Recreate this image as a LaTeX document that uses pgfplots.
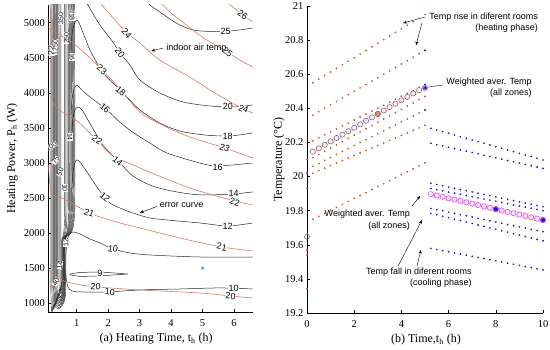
\documentclass[border=0pt]{standalone}
\usepackage{fontspec}
\setmainfont{Liberation Serif}
\newfontfamily\arial{Liberation Sans}
\usepackage{pgfplots}
\usepackage{pgfplotstable}
\pgfplotsset{compat=1.18}
\usetikzlibrary{arrows.meta}
\definecolor{redc}{RGB}{205,125,105}
\definecolor{heat}{RGB}{185,90,50}
\definecolor{coolc}{RGB}{30,30,200}
\definecolor{wgray}{RGB}{105,105,105}
\definecolor{violetc}{RGB}{200,80,235}
\definecolor{pinkband}{RGB}{255,222,240}
\definecolor{starblue}{RGB}{70,150,255}

\pgfplotstableread{
t H1 H2 H3 H4 H5 H6 H7 W
0.25 20.550 20.36 20.210 20.110 20.060 20.020 19.750 20.146
0.50 20.571 20.38 20.227 20.129 20.077 20.035 19.767 20.166
0.75 20.592 20.40 20.245 20.148 20.095 20.049 19.785 20.186
1.00 20.613 20.42 20.262 20.167 20.112 20.064 19.802 20.206
1.25 20.634 20.44 20.279 20.186 20.129 20.079 19.819 20.226
1.50 20.655 20.46 20.297 20.205 20.147 20.094 19.837 20.246
1.75 20.676 20.48 20.314 20.224 20.164 20.108 19.854 20.266
2.00 20.697 20.50 20.332 20.243 20.182 20.123 19.872 20.286
2.25 20.718 20.52 20.349 20.262 20.199 20.138 19.889 20.306
2.50 20.739 20.54 20.366 20.281 20.216 20.153 19.906 20.327
2.75 20.761 20.56 20.384 20.299 20.234 20.167 19.924 20.347
3.00 20.782 20.58 20.401 20.318 20.251 20.182 19.941 20.367
3.25 20.803 20.60 20.418 20.337 20.268 20.197 19.958 20.387
3.50 20.824 20.62 20.436 20.356 20.286 20.212 19.976 20.407
3.75 20.845 20.64 20.453 20.375 20.303 20.226 19.993 20.427
4.00 20.866 20.66 20.471 20.394 20.321 20.241 20.011 20.447
4.25 20.887 20.68 20.488 20.413 20.338 20.256 20.028 20.467
4.50 20.908 20.70 20.505 20.432 20.355 20.271 20.045 20.487
4.75 20.929 20.72 20.523 20.451 20.373 20.285 20.063 20.507
5.00 20.950 20.74 20.540 20.470 20.390 20.300 20.080 nan
}\heatT

\pgfplotstableread{
t C1 C2 C3 C4 C5 C6 C7 W
5.25 20.283 20.195 19.960 19.930 19.813 19.784 19.579 19.897
5.50 20.273 20.187 19.953 19.923 19.806 19.776 19.572 19.889
5.75 20.263 20.180 19.946 19.916 19.799 19.767 19.566 19.881
6.00 20.254 20.172 19.938 19.909 19.791 19.759 19.559 19.873
6.25 20.244 20.164 19.931 19.903 19.784 19.750 19.552 19.865
6.50 20.234 20.156 19.924 19.896 19.777 19.742 19.546 19.857
6.75 20.224 20.149 19.917 19.889 19.770 19.733 19.539 19.849
7.00 20.214 20.141 19.910 19.882 19.763 19.725 19.532 19.841
7.25 20.205 20.133 19.902 19.875 19.755 19.716 19.526 19.833
7.50 20.195 20.125 19.895 19.868 19.748 19.708 19.519 19.825
7.75 20.185 20.118 19.888 19.862 19.741 19.699 19.512 19.817
8.00 20.175 20.110 19.881 19.855 19.734 19.691 19.506 19.809
8.25 20.166 20.102 19.873 19.848 19.726 19.682 19.499 19.801
8.50 20.156 20.094 19.866 19.841 19.719 19.674 19.492 19.793
8.75 20.146 20.087 19.859 19.834 19.712 19.665 19.486 19.785
9.00 20.136 20.079 19.852 19.827 19.705 19.657 19.479 19.777
9.25 20.126 20.071 19.845 19.821 19.698 19.648 19.472 19.769
9.50 20.117 20.063 19.837 19.814 19.690 19.640 19.466 19.761
9.75 20.107 20.056 19.830 19.807 19.683 19.631 19.459 19.753
10.00 20.097 20.048 19.823 19.800 19.676 19.623 19.452 19.745
}\coolT

\tikzset{
 lab/.style={font=\arial\fontsize{9}{9}\selectfont, fill=white, inner sep=0.3pt, text=black},
 blab/.style={font=\arial\fontsize{7}{7}\selectfont, fill=white, inner sep=0.2pt, text=black},
 arr/.style={-{Stealth[length=4pt,width=3pt]}, line width=0.4pt, black},
 ann/.style={font=\arial\fontsize{9}{11.5}\selectfont, inner sep=0pt, align=right, text=black},
}
\pgfplotsset{
 common/.style={scale only axis, axis x line*=bottom, axis y line*=left,
   tick align=inside, major tick length=3pt, tick style={black, line width=0.4pt},
   axis line style={line width=0.5pt},
   tick label style={font=\fontsize{10.5}{12}\selectfont},
   /pgf/number format/assume math mode=true, /pgf/number format/1000 sep={},
   label style={font=\fontsize{12}{14}\selectfont},
   xticklabel style={yshift=-4pt}},
 blk/.style={black!85, line width=0.5pt, smooth, tension=0.5, no marks},
 rd/.style={redc, line width=0.6pt, smooth, tension=0.5, no marks},
 bun/.style={black!80, line width=0.45pt, smooth, tension=0.4, no marks},
 hdots/.style={only marks, mark=*, mark size=0.65pt, heat},
 cdots/.style={only marks, mark=*, mark size=0.65pt, coolc},
}

\begin{document}
\begin{tikzpicture}
\path[use as bounding box] (0,0) rectangle (550pt,350pt);

% ---------------- (a) contour panel ----------------
\begin{axis}[common, at={(48.3pt,38pt)}, anchor=south west,
  width=204.7pt, height=307pt,
  xmin=0.1, xmax=6.6, ymin=876, ymax=5252,
  xtick={1,2,3,4,5,6},
  ytick={1000,1500,2000,2500,3000,3500,4000,4500,5000},
  xlabel={(a) Heating Time, t\textsubscript{h} (h)},
  ylabel={Heating Power, P\textsubscript{h} (W)},
  xlabel style={at={(axis description cs:0.527,-0.0967)}, anchor=base},
  ylabel style={at={(axis description cs:-0.176,0.5)}, anchor=center}]

% dense bundle of high-error contours
\addplot[bun] coordinates {(0.185,5300) (0.185,1133) (0.277,976) (0.415,919) (0.553,976) (0.645,1133) (0.645,1903) (0.930,2259) (0.930,5300)};
\addplot[bun] coordinates {(0.217,5300) (0.217,1155) (0.301,997) (0.427,940) (0.553,997) (0.637,1155) (0.637,1903) (0.906,2259) (0.906,5300)};
\addplot[bun] coordinates {(0.249,5300) (0.249,1176) (0.325,1019) (0.439,962) (0.553,1019) (0.629,1176) (0.629,1903) (0.883,2259) (0.883,5300)};
\addplot[bun] coordinates {(0.272,5300) (0.272,1198) (0.342,1040) (0.447,983) (0.551,1040) (0.621,1198) (0.621,1903) (0.859,2259) (0.859,5300)};
\addplot[bun] coordinates {(0.296,5300) (0.296,1219) (0.359,1062) (0.455,1005) (0.550,1062) (0.613,1219) (0.613,1903) (0.835,2259) (0.835,5300)};
\addplot[bun] coordinates {(0.320,5300) (0.320,1240) (0.377,1083) (0.463,1026) (0.548,1083) (0.605,1240) (0.605,1903) (0.812,2259) (0.812,5300)};
\addplot[bun] coordinates {(0.344,5300) (0.344,1262) (0.395,1105) (0.471,1048) (0.546,1105) (0.597,1262) (0.597,1903) (0.788,2259) (0.788,5300)};
\addplot[bun] coordinates {(0.367,5300) (0.367,1283) (0.411,1126) (0.478,1070) (0.545,1126) (0.589,1283) (0.589,1903) (0.764,2259) (0.764,5300)};
\addplot[bun] coordinates {(0.391,5300) (0.391,1304) (0.429,1147) (0.486,1091) (0.543,1147) (0.581,1304) (0.581,1903) (0.740,2259) (0.740,5300)};
\addplot[bun] coordinates {(0.439,5300) (0.439,1347) (0.464,1190) (0.503,1133) (0.541,1190) (0.566,1347) (0.566,1903) (0.692,2259) (0.692,5300)};
\addplot[bun] coordinates {(0.471,5300) (0.471,1390) (0.487,1233) (0.511,1176) (0.534,1233) (0.550,1390) (0.550,1903) (0.654,2259) (0.654,5300)};
\addplot[bun] coordinates {(0.502,5300) (0.502,1447) (0.508,1290) (0.518,1233) (0.528,1290) (0.534,1447) (0.534,1903) (0.616,2259) (0.616,5300)};

% error-curve contours (black)
\addplot[blk] coordinates {(3.26,5300) (3.324,5252) (3.641,5153) (3.958,5053) (4.275,4967) (4.687,4896) (5.226,4875) (5.8,4880) (6.178,4896) (6.59,4924)};
\addplot[blk] coordinates {(1.30,5300) (1.358,5252) (1.739,4967) (2.151,4725) (2.373,4568) (2.690,4397) (3.007,4183) (3.641,3998) (4.370,3870) (5.226,3813) (5.956,3798) (6.59,3827)};
\addplot[blk] coordinates {(0.819,4611) (0.851,4825) (0.914,4967) (1.010,5038) (1.105,4967) (1.231,4825) (1.422,4611) (1.644,4426) (1.834,4283) (2.119,4155) (2.373,4041) (2.595,3941) (3.007,3756) (3.641,3570) (4.275,3456) (5.068,3399) (5.860,3385) (6.59,3428)};
\addplot[blk] coordinates {(0.819,3684) (0.851,3898) (0.914,4055) (1.010,4112) (1.105,4069) (1.263,3998) (1.549,3898) (1.961,3756) (2.405,3570) (2.817,3428) (3.324,3285) (3.863,3143) (4.909,3000) (5.480,2957) (6.59,3000)};
\addplot[blk] coordinates {(0.851,3471) (0.883,3642) (0.946,3756) (1.041,3798) (1.168,3756) (1.358,3613) (1.580,3442) (1.834,3257) (2.119,3114) (2.437,2971) (2.785,2815) (3.324,2686) (3.863,2615) (4.592,2558) (5.131,2544) (5.956,2558) (6.59,2587)};
\addplot[blk] coordinates {(0.851,2615) (0.883,2872) (0.946,3000) (1.010,3043) (1.105,3014) (1.327,2872) (1.644,2658) (1.834,2544) (2.056,2430) (2.373,2359) (2.785,2287) (3.324,2216) (3.863,2188) (4.909,2145) (5.797,2102) (6.59,2145)};
\addplot[blk] coordinates {(6.59,1204) (5.543,1219) (4.275,1204) (3.007,1190) (1.961,1162) (1.105,1162) (0.851,1176) (0.724,1233) (0.661,1404) (0.661,1689) (0.692,1874) (0.756,1974) (0.883,2017) (1.105,1988) (1.422,1917) (1.739,1860) (2.151,1775) (2.690,1718) (3.324,1689) (4.909,1660) (6.59,1660)};
\addplot[black!85, line width=0.5pt, no marks] coordinates {(0.788,1418) (1.105,1440) (1.739,1447) (2.627,1418) (1.739,1390) (1.105,1383) (0.788,1404) (0.788,1418)};

% indoor air temperature contours (red)
\addplot[rd] coordinates {(5.797,5281) (5.956,5224) (6.114,5167) (6.273,5110) (6.432,5060) (6.59,5010)};
\addplot[rd] coordinates {(3.641,5295) (3.736,5252) (3.958,5153) (4.275,5038) (4.687,4896) (5.131,4753) (5.797,4582) (6.178,4468) (6.59,4369)};
\addplot[rd] coordinates {(1.739,5281) (1.802,5252) (2.214,5038) (2.595,4853) (3.007,4711) (3.641,4468) (4.592,4226) (5.385,3998) (6.178,3798) (6.59,3713)};
\addplot[rd] coordinates {(0.06,4940) (0.471,4825) (0.851,4725) (1.422,4497) (2.119,4183) (2.531,3969) (3.007,3727) (3.641,3556) (4.592,3371) (5.702,3214) (6.59,3071)};
\addplot[rd] coordinates {(0.185,5300) (0.185,4611) (0.190,4112) (0.249,3856) (0.534,3727) (1.010,3599) (1.580,3357) (2.119,3114) (3.007,2929) (4.592,2644) (6.019,2459) (6.59,2402)};
\addplot[rd] coordinates {(0.106,2971) (0.153,2686) (0.249,2544) (0.597,2487) (1.485,2273) (2.373,2145) (3.007,2074) (4.275,1931) (5.607,1803) (6.59,1746)};
\addplot[rd] coordinates {(0.08,1490) (0.312,1390) (0.597,1319) (1.105,1262) (1.644,1233) (3.007,1190) (4.909,1147) (5.860,1105) (6.59,1076)};

\addplot[only marks, mark=asterisk, mark size=2pt, starblue, line width=0.5pt] coordinates {(5,1500)};

% contour labels
\node[lab] at (axis cs:5.734,4882) {25};
\node[lab, rotate=-55] at (axis cs:2.373,4568) {20};
\node[lab] at (axis cs:5.80,3806) {20};
\node[lab, rotate=-20] at (axis cs:6.30,3772) {24};
\node[lab, rotate=-40] at (axis cs:1.80,4330) {23};
\node[lab, rotate=-40] at (axis cs:2.40,4020) {18};
\node[lab] at (axis cs:5.797,3385) {18};
\node[lab, rotate=-40] at (axis cs:1.90,3780) {16};
\node[lab] at (axis cs:5.48,2943) {16};
\node[lab, rotate=-35] at (axis cs:1.65,3325) {22};
\node[lab, rotate=-40] at (axis cs:2.30,3030) {14};
\node[lab] at (axis cs:5.987,2565) {14};
\node[lab, rotate=-40] at (axis cs:1.90,2510) {12};
\node[lab] at (axis cs:5.797,2102) {12};
\node[lab, rotate=-10] at (axis cs:2.151,1775) {10};
\node[lab, rotate=-5] at (axis cs:1.60,1238) {20};
\node[lab, rotate=-3] at (axis cs:2.05,1160) {10};
\node[lab] at (axis cs:5.987,1219) {10};
\node[lab, rotate=-5] at (axis cs:5.892,1105) {20};
\node[lab] at (axis cs:1.739,1425) {9};
\node[lab, rotate=-35] at (axis cs:6.273,5110) {26};
\node[lab, rotate=-40] at (axis cs:5.797,4582) {25};
\node[lab, rotate=-50] at (axis cs:2.595,4853) {24};
\node[lab, rotate=-20] at (axis cs:5.702,3214) {23};
\node[lab, rotate=90] at (axis cs:0.19,4600) {22};
\node[lab, rotate=-15] at (axis cs:6.019,2444) {22};
\node[lab, rotate=-20] at (axis cs:1.40,2290) {21};
\node[lab, rotate=-12] at (axis cs:5.607,1803) {21};
% labels inside the dense bundle
\node[blab, rotate=-90] at (axis cs:0.851,5081) {18};
\node[blab, rotate=-90] at (axis cs:0.851,4511) {16};
\node[blab, rotate=-90] at (axis cs:0.788,3371) {14};
\node[blab, rotate=-90] at (axis cs:0.629,2644) {10};
\node[blab, rotate=90] at (axis cs:0.661,1860) {12};
\node[blab, rotate=80] at (axis cs:0.471,1546) {14};
\node[blab, rotate=60] at (axis cs:0.344,1304) {40};
\node[blab, rotate=90] at (axis cs:0.32,4650) {1250};
\node[blab, rotate=90] at (axis cs:0.50,5060) {350};
\node[blab, rotate=90] at (axis cs:0.68,4780) {250};
\node[blab, rotate=30] at (axis cs:0.19,3240) {100};
\node[blab, rotate=60] at (axis cs:0.33,3040) {75};
\node[blab, rotate=70] at (axis cs:0.48,2870) {50};
% annotations
\draw[arr] (axis cs:3.75,4639) -- (axis cs:3.37,4597);
\node[ann, anchor=west] at (axis cs:3.84,4639) {indoor air temp};
\draw[arr] (axis cs:3.55,2380) -- (axis cs:3.01,2290);
\node[ann, anchor=west] at (axis cs:3.64,2402) {error curve};
\end{axis}

% ---------------- (b) temperature panel ----------------
\begin{axis}[common, clip=false, at={(307pt,37pt)}, anchor=south west,
  width=236pt, height=307pt,
  xmin=0, xmax=10, ymin=19.2, ymax=21,
  xtick={0,2,4,6,8,10},
  ytick={19.2,19.4,19.6,19.8,20,20.2,20.4,20.6,20.8,21},
  xlabel={(b) Time,t\textsubscript{h} (h)},
  ylabel={Temperature (°C)},
  xlabel style={at={(axis description cs:0.504,-0.0967)}, anchor=base},
  ylabel style={at={(axis description cs:-0.119,0.5)}, anchor=center}]

\addplot[no marks, pinkband!70, line width=5pt] table[x=t,y=W] {\heatT};
\addplot[no marks, pinkband, line width=6pt] table[x=t,y=W] {\coolT};

\pgfplotsinvokeforeach{H1,H2,H3,H4,H5,H6,H7}{
  \addplot[hdots] table[x=t,y=#1] {\heatT};
}
\pgfplotsinvokeforeach{C1,C2,C3,C4,C5,C6,C7}{
  \addplot[cdots] table[x=t,y=#1] {\coolT};
}
\addplot[hdots] coordinates {(0,20.10) (0,20.02) (0,19.93) (0,19.57) (0,19.54) (0,19.344)};
\addplot[cdots] coordinates {(5,20.74) (5,20.54) (5,20.39)};

\addplot[only marks, mark=o, mark size=2.6pt, wgray, line width=0.5pt] table[x=t,y=W] {\heatT};
\addplot[only marks, mark=o, mark size=2.6pt, wgray, line width=0.5pt] coordinates {(0,19.647)};
\addplot[only marks, mark=o, mark size=2.6pt, violetc, line width=0.5pt] table[x=t,y=W] {\coolT};

\addplot[only marks, mark=*, mark size=2.6pt, draw=wgray, fill=heat!70] coordinates {(3,20.367)};
\addplot[only marks, mark=*, mark size=2.6pt, draw=violetc, fill=heat!60] coordinates {(5,20.52)};
\addplot[only marks, mark=*, mark size=2.6pt, draw=violetc, fill=violetc!60!blue] coordinates {(8,19.809) (10,19.745)};
\addplot[only marks, mark=asterisk, mark size=2.4pt, blue, line width=0.5pt] coordinates {(5,20.52) (8,19.809) (10,19.745)};

% annotations
\node[ann, anchor=north east] at (axis cs:9.79,20.963) {Temp rise in diferent rooms\\(heating phase)};
\draw[arr] (axis cs:5.0,20.935) -- (axis cs:4.07,20.90);
\draw[arr] (axis cs:4.87,20.90) -- (axis cs:4.62,20.77);
\node[ann, anchor=north east] at (axis cs:9.53,20.582) {Weighted aver. Temp\\(all zones)};
\draw[arr] (axis cs:5.76,20.537) -- (axis cs:4.90,20.52);
\node[ann, anchor=north east] at (axis cs:4.37,19.803) {Weighted aver. Temp\\(all zones)};
\draw[arr] (axis cs:4.45,19.827) -- (axis cs:4.79,19.886);
\node[ann, anchor=north east] at (axis cs:6.99,19.467) {Temp fall in diferent rooms\\(cooling phase)};
\draw[arr] (axis cs:3.86,19.475) -- (axis cs:4.87,19.745);
\draw[arr] (axis cs:4.66,19.475) -- (axis cs:4.83,19.57);
\end{axis}
\end{tikzpicture}
\end{document}
